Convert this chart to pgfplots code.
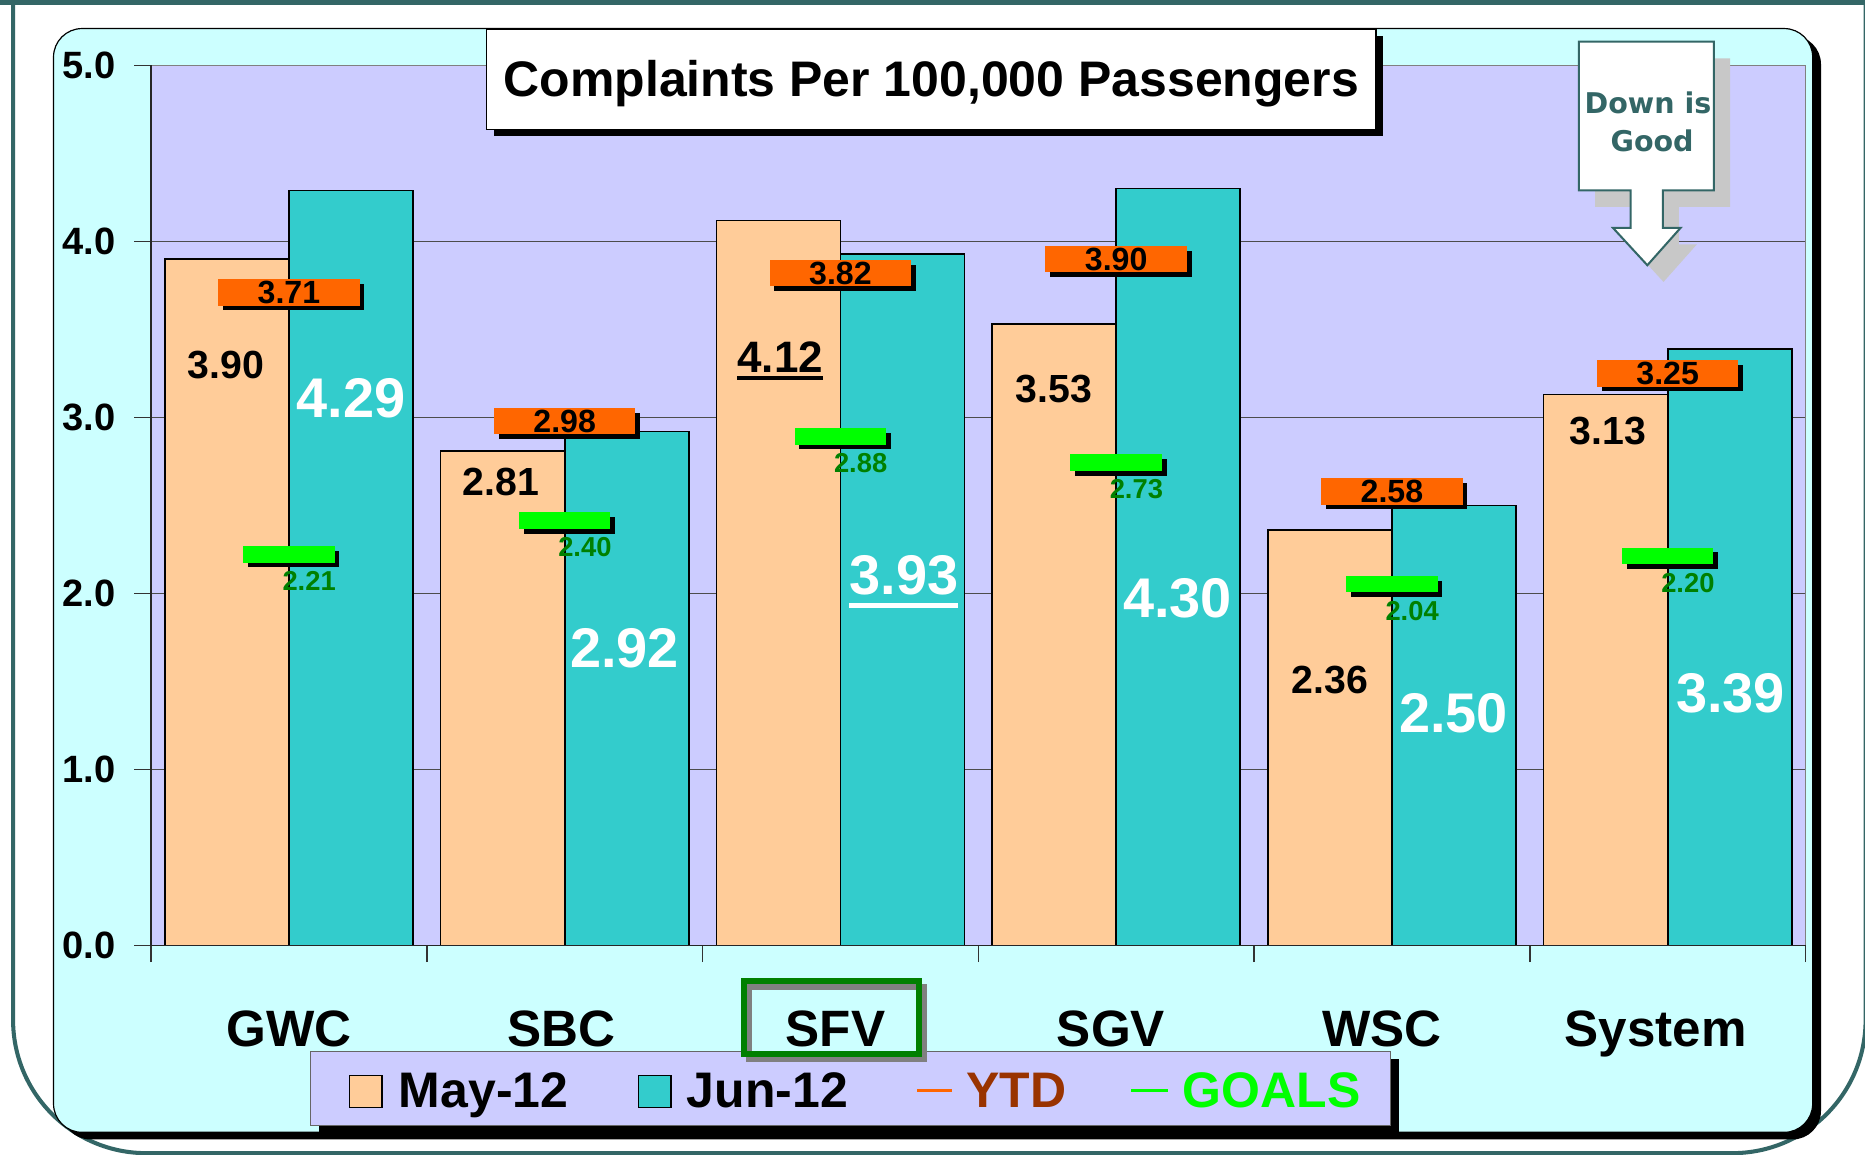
\documentclass[border=0pt]{standalone}
\usepackage{pgfplots}
\pgfplotsset{compat=1.18}
\usepackage{pgfplotstable}
\usepackage{fontspec}
\setmainfont{Liberation Sans}
\newfontfamily\dejavu{DejaVu Sans}
\usetikzlibrary{shadows}

\definecolor{peach}{HTML}{FFCC99}
\definecolor{tealbar}{HTML}{33CCCC}
\definecolor{lav}{HTML}{CCCCFF}
\definecolor{cyanbg}{HTML}{CCFFFF}
\definecolor{ytdor}{HTML}{FF6600}
\definecolor{goalgr}{HTML}{00FF00}
\definecolor{darkgr}{HTML}{008000}
\definecolor{ytdtxt}{HTML}{993300}
\definecolor{framec}{HTML}{336666}
\definecolor{shadowgray}{HTML}{C8C8C8}

\newcommand\fs[1]{\fontsize{#1}{#1}\selectfont\bfseries}
\newsavebox\ulbox
\newcommand\thickul[3]{\sbox\ulbox{#1}\smash{\rlap{\rule[#2]{\wd\ulbox}{#3}}}\usebox\ulbox}

\pgfplotstableread{
x may jun ytd goal
0 3.90 4.29 3.71 2.21
1 2.81 2.92 2.98 2.40
2 4.12 3.93 3.82 2.88
3 3.53 4.30 3.90 2.73
4 2.36 2.50 2.58 2.04
5 3.13 3.39 3.25 2.20
}\datatable

\tikzset{disp/.style={x=0.5pt,y=-0.5pt,shift={(-63.5pt,397.5pt)}}}

\begin{document}
\begin{tikzpicture}
\useasboundingbox (-63.5pt,-88pt) rectangle (720.5pt,397.5pt);
\begin{scope}[disp]
\fill[white] (0,0) rectangle (1568,971);
\fill[framec] (0,0) rectangle (1568,4);
\draw[framec, line width=1.7pt, rounded corners=56pt] (11,-60) -- (11,969.5) -- (1568.5,969.5) -- (1568.5,-60);
\fill[black, rounded corners=12pt] (52,30) rectangle (1531,958);
\filldraw[fill=cyanbg, draw=black, line width=0.5pt, rounded corners=12pt] (45,24) rectangle (1524,952);
\end{scope}

\begin{axis}[
  scale only axis, width=695.5pt, height=370pt,
  xmin=-0.5, xmax=5.5, ymin=0, ymax=5,
  clip=false,
  axis background/.style={fill=lav},
  axis line style={draw=black!50, line width=0.6pt},
  ymajorgrids, grid style={black!70, line width=0.5pt},
  ytick={0,1,2,3,4,5},
  yticklabel style={font=\fs{16}, xshift=-4.5pt, /pgf/number format/.cd, fixed, fixed zerofill, precision=1, assume math mode=true},
  xtick={-0.5,0.5,1.5,2.5,3.5,4.5,5.5},
  xticklabels={\null,\null,\null,\null,\null,\null,\null},
  tick pos=left,
  tick align=outside, major tick length=7pt,
  tick style={black!80, line width=0.6pt},
]
\addplot[ybar, bar width=0.45, bar shift=-0.225, fill=peach, draw=black, line width=0.7pt] table[x=x,y=may]{\datatable};
\addplot[ybar, bar width=0.45, bar shift=0.225, fill=tealbar, draw=black, line width=0.7pt] table[x=x,y=jun]{\datatable};

\addplot[draw=none, nodes near coords={\pgfmathprintnumber[fixed,fixed zerofill,precision=2,assume math mode=true]{\pgfplotspointmeta}},
  every node near coord/.append style={anchor=center, fill=ytdor, minimum width=59.5pt, minimum height=11pt, inner sep=0pt, font=\fs{13.5}, text=black, drop shadow={shadow xshift=2pt, shadow yshift=-2pt, fill=black, opacity=1}}]
  table[x=x,y=ytd]{\datatable};

\addplot[draw=none, nodes near coords={\hbox{}},
  every node near coord/.append style={anchor=center, fill=goalgr, minimum width=38.5pt, minimum height=7pt, inner sep=0pt, yshift=1pt, drop shadow={shadow xshift=2pt, shadow yshift=-2pt, fill=black, opacity=1}}]
  table[x=x,y=goal]{\datatable};

\addplot[draw=none, nodes near coords={\pgfmathprintnumber[fixed,fixed zerofill,precision=2,assume math mode=true]{\pgfplotspointmeta}},
  every node near coord/.append style={anchor=north, xshift=8.5pt, yshift=-6pt, inner sep=0pt, font=\fs{11.5}, text=darkgr}]
  table[x=x,y=goal]{\datatable};

\draw[black!85, line width=0.6pt] (rel axis cs:0,0) -- (rel axis cs:0,1);
\draw[black!85, line width=0.6pt] (rel axis cs:0,0) -- (rel axis cs:1,0);

\node[font=\fs{16.5}, inner sep=0pt] at (axis cs:-0.228,3.297) {3.90};
\node[font=\fs{16.5}, inner sep=0pt] at (axis cs:0.768,2.635) {2.81};
\node[font=\fs{18.5}, inner sep=0pt] at (axis cs:1.782,3.345) {\thickul{4.12}{-3.5pt}{1.7pt}};
\node[font=\fs{16.5}, inner sep=0pt] at (axis cs:2.774,3.162) {3.53};
\node[font=\fs{16.5}, inner sep=0pt] at (axis cs:3.775,1.507) {2.36};
\node[font=\fs{16.5}, inner sep=0pt] at (axis cs:4.784,2.926) {3.13};

\node[font=\fs{23.5}, text=white, inner sep=0pt] at (axis cs:0.225,3.108) {4.29};
\node[font=\fs{23.5}, text=white, inner sep=0pt] at (axis cs:1.217,1.689) {2.92};
\node[font=\fs{23.5}, text=white, inner sep=0pt] at (axis cs:2.230,2.101) {\thickul{3.93}{-5.5pt}{2pt}};
\node[font=\fs{23.5}, text=white, inner sep=0pt] at (axis cs:3.223,1.973) {4.30};
\node[font=\fs{23.5}, text=white, inner sep=0pt] at (axis cs:4.223,1.318) {2.50};
\node[font=\fs{23.5}, text=white, inner sep=0pt] at (axis cs:5.228,1.432) {3.39};
\end{axis}

\begin{scope}[disp]
% category labels
\foreach \xx/\lab in {243/GWC,472/SBC,702.5/SFV,934/SGV,1162/WSC,1392/System}
  \node[anchor=base, font=\fs{21.5}, inner sep=0pt] at (\xx,880) {\lab};
% legend
\fill[black] (268,890) rectangle (1176,952);
\filldraw[fill=lav, draw=black!60, line width=0.5pt] (261,884) rectangle (1169,946);
\filldraw[fill=peach, draw=black, line width=0.6pt] (294,904) rectangle (321,931);
\node[anchor=base west, font=\fs{21}, inner sep=0pt] at (335,931) {May-12};
\filldraw[fill=tealbar, draw=black, line width=0.6pt] (537,904) rectangle (564,931);
\node[anchor=base west, font=\fs{21}, inner sep=0pt] at (577,931) {Jun-12};
\draw[ytdor, line width=1.4pt] (771,917) -- (800,917);
\node[anchor=base west, font=\fs{21}, inner sep=0pt, text=ytdtxt] at (812,931) {YTD};
\draw[goalgr, line width=1.4pt] (951,917) -- (982,917);
\node[anchor=base west, font=\fs{21}, inner sep=0pt, text=goalgr] at (994,931) {GOALS};
% SFV box
\draw[black!50, line width=2.5pt] (629.5,829.5) rectangle (776.5,890.5);
\draw[darkgr, line width=2.5pt] (625.5,824.5) rectangle (772.5,886);
% title
\fill[black] (415,30) rectangle (1163,114);
\filldraw[fill=white, draw=black, line width=0.6pt] (409,25) rectangle (1157,109);
\node[anchor=base, font=\fs{21}, inner sep=0pt] at (783,81.5) {Complaints Per 100,000 Passengers};
% callout
\fill[shadowgray, shift={(13.6,14)}] (1327.5,35) -- (1441,35) -- (1441,160) -- (1398,160) -- (1398,191.5) -- (1413,191.5) -- (1385,223) -- (1356,191.5) -- (1371,191.5) -- (1371,160) -- (1327.5,160) -- cycle;
\filldraw[fill=white, draw=framec, line width=0.85pt] (1327.5,35) -- (1441,35) -- (1441,160) -- (1398,160) -- (1398,191.5) -- (1413,191.5) -- (1385,223) -- (1356,191.5) -- (1371,191.5) -- (1371,160) -- (1327.5,160) -- cycle;
\node[anchor=base, inner sep=0pt, text=framec, font=\dejavu\bfseries\fontsize{12}{12}\selectfont] at (1385.5,95.5) {Down is};
\node[anchor=base, inner sep=0pt, text=framec, font=\dejavu\bfseries\fontsize{12}{12}\selectfont] at (1389,127.5) {Good};
\end{scope}
\end{tikzpicture}
\end{document}
